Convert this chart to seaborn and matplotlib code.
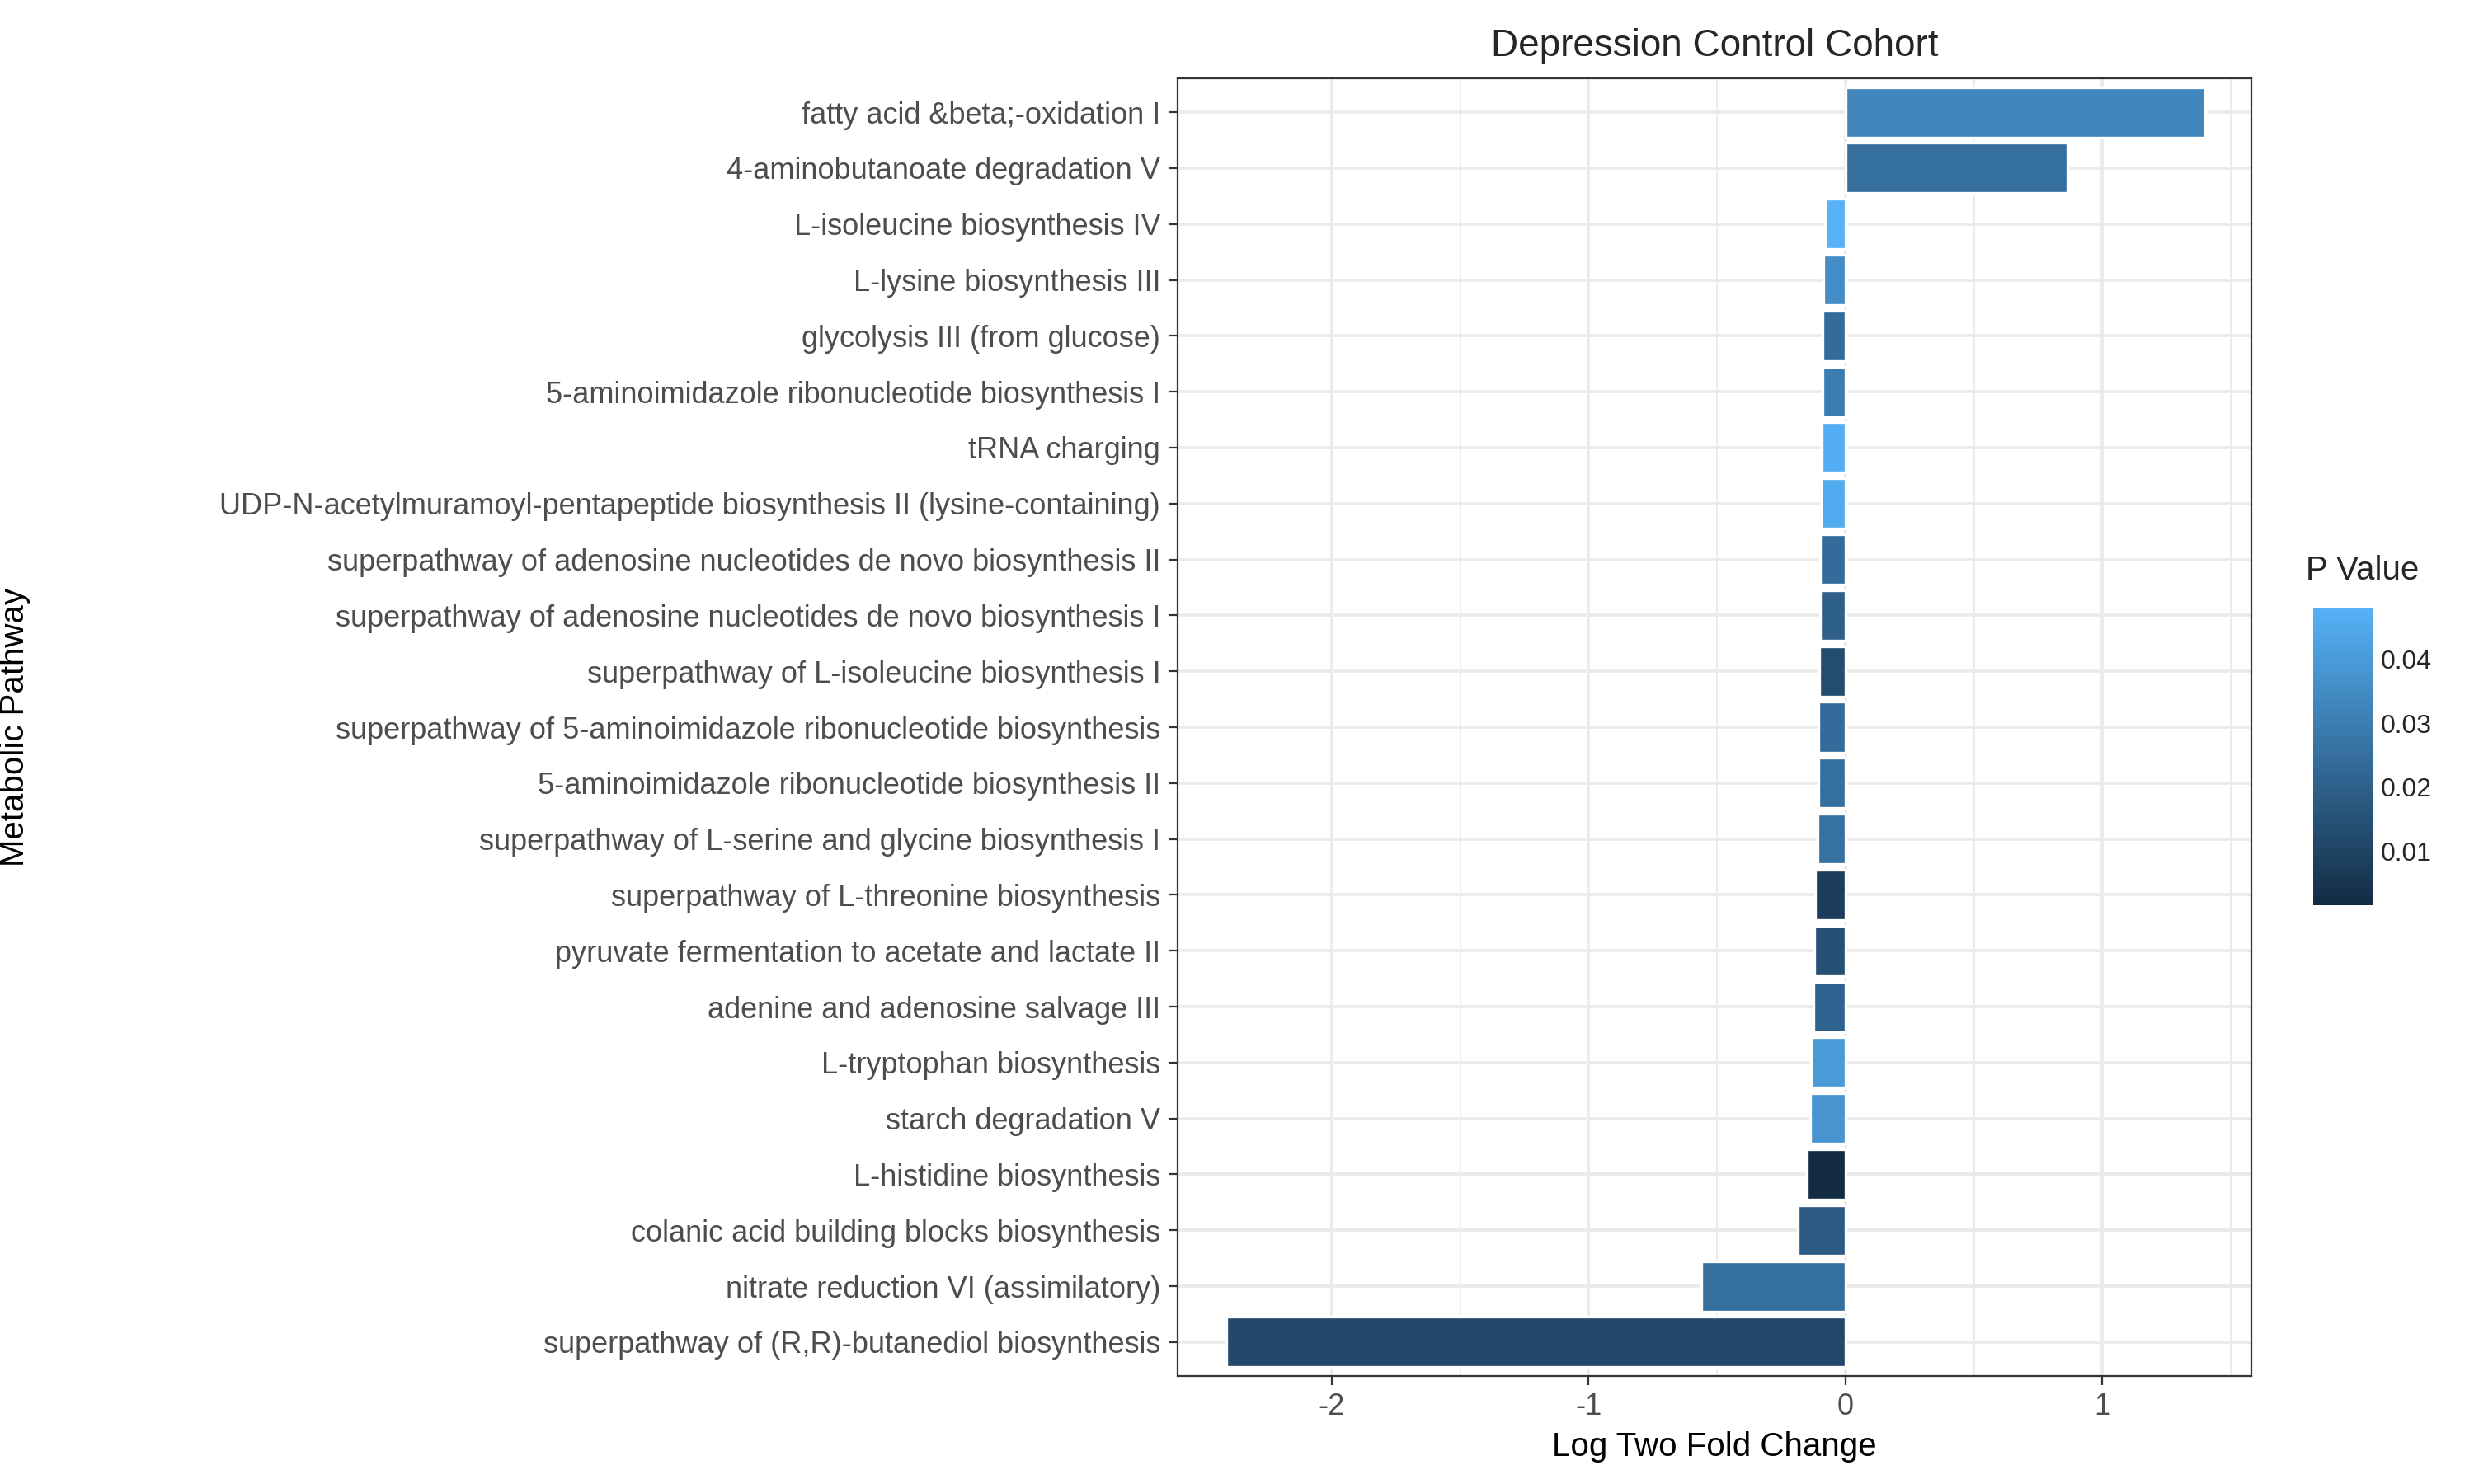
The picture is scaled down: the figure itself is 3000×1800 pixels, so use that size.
import numpy as np
import pandas as pd
import matplotlib
matplotlib.use('Agg')
import matplotlib.pyplot as plt
import matplotlib.colors as mcolors
import seaborn as sns

pathways = [
    'fatty acid &beta;-oxidation I',
    '4-aminobutanoate degradation V',
    'L-isoleucine biosynthesis IV',
    'L-lysine biosynthesis III',
    'glycolysis III (from glucose)',
    '5-aminoimidazole ribonucleotide biosynthesis I',
    'tRNA charging',
    'UDP-N-acetylmuramoyl-pentapeptide biosynthesis II (lysine-containing)',
    'superpathway of adenosine nucleotides de novo biosynthesis II',
    'superpathway of adenosine nucleotides de novo biosynthesis I',
    'superpathway of L-isoleucine biosynthesis I',
    'superpathway of 5-aminoimidazole ribonucleotide biosynthesis',
    '5-aminoimidazole ribonucleotide biosynthesis II',
    'superpathway of L-serine and glycine biosynthesis I',
    'superpathway of L-threonine biosynthesis',
    'pyruvate fermentation to acetate and lactate II',
    'adenine and adenosine salvage III',
    'L-tryptophan biosynthesis',
    'starch degradation V',
    'L-histidine biosynthesis',
    'colanic acid building blocks biosynthesis',
    'nitrate reduction VI (assimilatory)',
    'superpathway of (R,R)-butanediol biosynthesis',
]
log2fc = [1.40, 0.865, -0.081, -0.086, -0.091, -0.091, -0.093, -0.096, -0.098,
          -0.099, -0.102, -0.104, -0.104, -0.109, -0.118, -0.122, -0.126,
          -0.134, -0.137, -0.150, -0.187, -0.56, -2.41]
pvals = [0.033, 0.025, 0.048, 0.035, 0.024, 0.030, 0.047, 0.046, 0.024, 0.020,
         0.013, 0.024, 0.025, 0.026, 0.008, 0.014, 0.021, 0.040, 0.038, 0.0015,
         0.018, 0.025, 0.012]

df = pd.DataFrame({'Pathway': pathways, 'LFC': log2fc, 'P': pvals})

sns.set_style('whitegrid')
plt.rcParams['font.family'] = ['Liberation Sans', 'DejaVu Sans']
plt.rcParams['axes.unicode_minus'] = False

cmap = mcolors.LinearSegmentedColormap.from_list('gg', ['#132B43', '#56B1F7'])
norm = mcolors.Normalize(vmin=0.0015, vmax=0.048)

fig = plt.figure(figsize=(15, 9), dpi=200)
ax = fig.add_axes([0.476, 0.073, 0.434, 0.874])
sns.barplot(data=df, x='LFC', y='Pathway', hue='P', palette=cmap, hue_norm=norm,
            order=pathways, dodge=False, legend=False, width=0.9, saturation=1,
            edgecolor='white', linewidth=1.2, ax=ax)

ax.set_xlim(-2.6, 1.58)
ax.set_ylim(len(pathways) - 0.4, -0.6)
ax.set_xticks([-2, -1, 0, 1])
ax.set_xticks([-1.5, -0.5, 0.5, 1.5], minor=True)
ax.grid(True, which='major', color='#EBEBEB', linewidth=1.4)
ax.grid(True, which='minor', axis='x', color='#EBEBEB', linewidth=0.7)
ax.set_axisbelow(True)
for s in ax.spines.values():
    s.set_color('#333333')
    s.set_linewidth(0.8)
ax.tick_params(axis='both', labelsize=13, labelcolor='#4D4D4D', length=4,
               color='#333333', width=0.8, left=True, bottom=True)
ax.set_xlabel('Log Two Fold Change', fontsize=14.5, color='black')
ax.set_ylabel('Metabolic Pathway', fontsize=14.5, color='black')
ax.set_title('Depression Control Cohort', fontsize=16.5, pad=10)
fig.canvas.draw()
ax.yaxis.set_label_coords(-1.068, 0.5)

cax = fig.add_axes([0.935, 0.39, 0.024, 0.20])
cb = fig.colorbar(plt.cm.ScalarMappable(norm=norm, cmap=cmap), cax=cax)
cb.set_ticks([0.01, 0.02, 0.03, 0.04])
cb.outline.set_visible(False)
cax.tick_params(labelsize=11.5, length=4, color='white', direction='in')
fig.text(0.932, 0.605, 'P Value', fontsize=14.5, ha='left', va='bottom')

fig.savefig('out.png', dpi=200)
